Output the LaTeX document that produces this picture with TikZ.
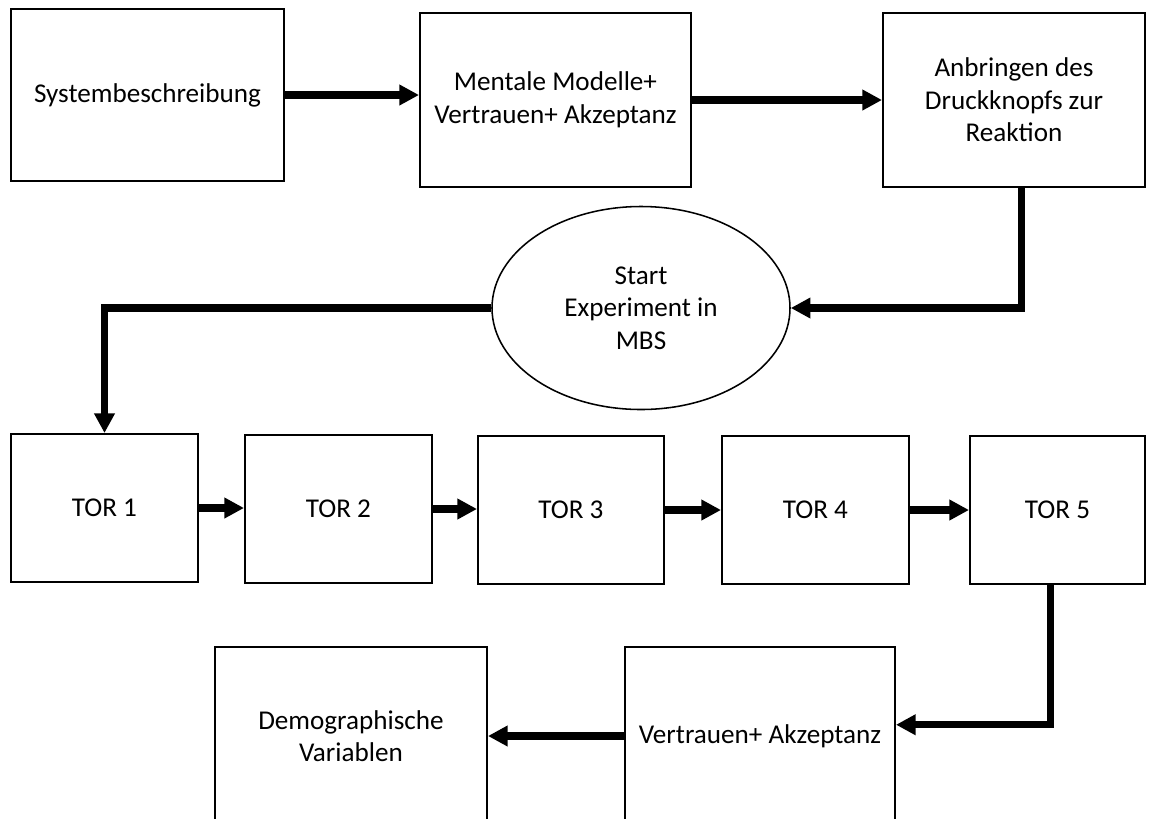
\documentclass[tikz,border=0pt]{standalone}
\usepackage{fontspec}
\setmainfont{Carlito}
\usepackage{tikz}
\usetikzlibrary{shapes.geometric, arrows.meta, positioning, calc}

\begin{document}
\begin{tikzpicture}[x=0.025cm, y=-0.025cm,
    box/.style={draw, line width=1.4pt, align=center, inner sep=0pt,
      font=\fontsize{19.3}{23.2}\selectfont},
    flow/.style={line width=5pt, line join=miter,
      -{Triangle[length=14pt, width=14pt]}}]
  % page frame, lower boxes run off the bottom
  \useasboundingbox (0,0) rectangle (1152,818);
  \clip (0,0) rectangle (1152,818);

  % top row
  \node[box, minimum width=273*0.025cm, minimum height=172*0.025cm] (sys) at (147.5, 95) {Systembeschreibung};
  \node[box, minimum width=271*0.025cm, minimum height=174*0.025cm] (mental) at (555.5, 100) {Mentale Modelle+\\Vertrauen+ Akzeptanz};
  \node[box, minimum width=262*0.025cm, minimum height=174*0.025cm] (druck) at (1014, 100) {Anbringen des\\Druckknopfs zur\\Reaktion};

  % start of the experiment
  \node[box, ellipse, line width=1.1pt, minimum width=298*0.025cm, minimum height=203*0.025cm] (start) at (641, 308) {Start\\Experiment in\\MBS};

  % take-over requests
  \node[box, minimum width=187*0.025cm, minimum height=148*0.025cm] (tor1) at (104.5, 508) {TOR 1};
  \node[box, minimum width=187*0.025cm, minimum height=148*0.025cm] (tor2) at (338.5, 509) {TOR 2};
  \node[box, minimum width=186*0.025cm, minimum height=148*0.025cm] (tor3) at (571, 510) {TOR 3};
  \node[box, minimum width=187*0.025cm, minimum height=148*0.025cm] (tor4) at (815.5, 510) {TOR 4};
  \node[box, minimum width=175*0.025cm, minimum height=148*0.025cm] (tor5) at (1057.5, 510) {TOR 5};

  % final questionnaires
  \node[box, minimum width=270*0.025cm, minimum height=178*0.025cm] (vertrauen) at (760, 736) {Vertrauen+ Akzeptanz};
  \node[box, minimum width=272*0.025cm, minimum height=178*0.025cm] (demo) at (351, 736) {Demographische\\Variablen};

  % connectors
  \draw[flow] (sys.east) -- (sys.east -| mental.west);
  \draw[flow] (mental.east) -- (druck.west);
  \draw[flow] ([xshift=5pt]druck.south) |- (start.east);
  \draw[flow] (start.west) -| (tor1.north);
  \foreach \a/\b in {tor1/tor2, tor2/tor3, tor3/tor4, tor4/tor5} {
    \draw[flow] (\a.east) -- (\a.east -| \b.west);
  }
  \draw[flow] ([xshift=-5pt]tor5.south) |- ([yshift=8pt]vertrauen.east);
  \draw[flow] (vertrauen.west) -- (demo.east);
\end{tikzpicture}
\end{document}
